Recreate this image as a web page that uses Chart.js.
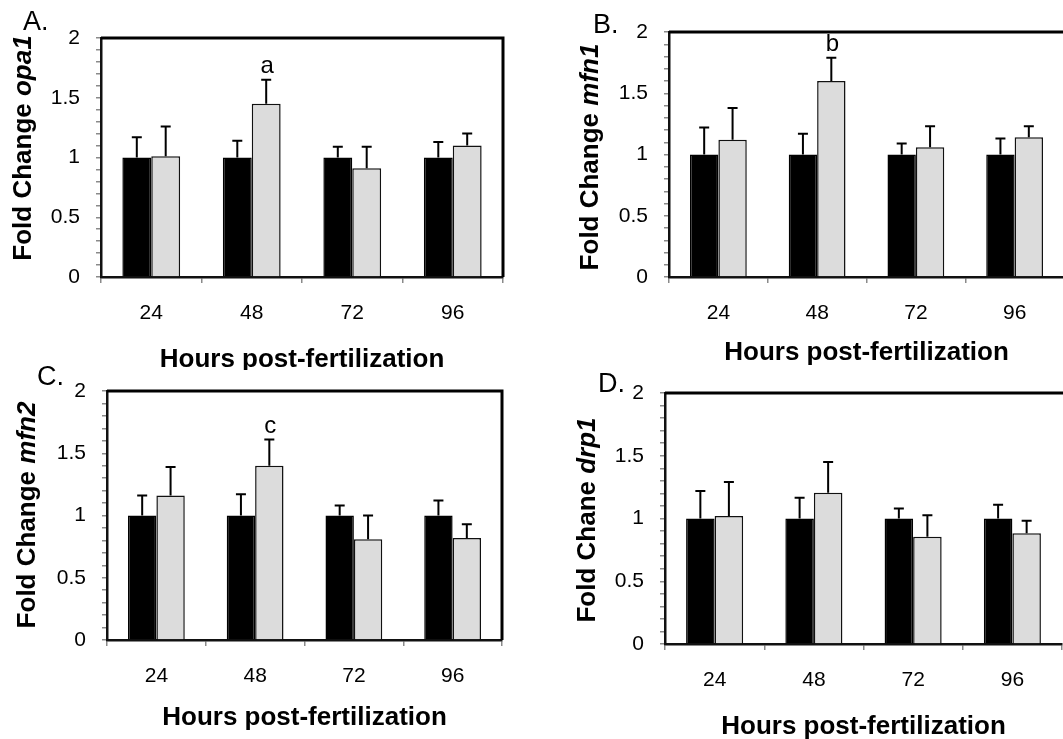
<!DOCTYPE html>
<html>
<head>
<meta charset="utf-8">
<script src="https://cdn.jsdelivr.net/npm/chart.js@4.4.1/dist/chart.umd.min.js"></script>
<style>
  body { margin: 0; width: 1063px; height: 739px; overflow: hidden; background: #fff; position: relative; }
  .panel { position: absolute; }
</style>
</head>
<body>
<div class="panel" style="left:0;top:0;width:530px;height:370px"><canvas id="chartA"></canvas></div>
<div class="panel" style="left:530px;top:0;width:550px;height:370px"><canvas id="chartB"></canvas></div>
<div class="panel" style="left:0;top:340px;width:530px;height:399px"><canvas id="chartC"></canvas></div>
<div class="panel" style="left:530px;top:340px;width:550px;height:399px"><canvas id="chartD"></canvas></div>

<script>
// ---- data ----
const hours = ['24', '48', '72', '96'];
const yLabelTicks = [0, 0.5, 1, 1.5, 2];

const opa1Ctrl = [1, 1, 1, 1];
const opa1CtrlErr = [0.17, 0.14, 0.09, 0.13];
const opa1Trt = [1.01, 1.45, 0.91, 1.10];
const opa1TrtErr = [0.25, 0.20, 0.18, 0.10];
const opa1Sig = ['', 'a', '', ''];

const mfn1Ctrl = [1, 1, 1, 1];
const mfn1CtrlErr = [0.22, 0.17, 0.09, 0.13];
const mfn1Trt = [1.12, 1.60, 1.06, 1.14];
const mfn1TrtErr = [0.26, 0.19, 0.17, 0.09];
const mfn1Sig = ['', 'b', '', ''];

const mfn2Ctrl = [1, 1, 1, 1];
const mfn2CtrlErr = [0.16, 0.17, 0.08, 0.12];
const mfn2Trt = [1.16, 1.40, 0.81, 0.82];
const mfn2TrtErr = [0.23, 0.21, 0.19, 0.11];
const mfn2Sig = ['', 'c', '', ''];

const drp1Ctrl = [1, 1, 1, 1];
const drp1CtrlErr = [0.22, 0.165, 0.08, 0.11];
const drp1Trt = [1.02, 1.205, 0.855, 0.883];
const drp1TrtErr = [0.27, 0.245, 0.17, 0.10];
const drp1Sig = ['', '', '', ''];

const FONT = '"Liberation Sans", Arial, Helvetica, sans-serif';

// error bars (upper only) + significance letters
const errorBarPlugin = {
  id: 'errorBars',
  afterDatasetsDraw(chart) {
    const ctx = chart.ctx;
    const yScale = chart.scales.y;
    ctx.save();
    ctx.strokeStyle = '#000';
    ctx.lineWidth = 2;
    chart.data.datasets.forEach((ds, di) => {
      const meta = chart.getDatasetMeta(di);
      meta.data.forEach((bar, i) => {
        const top = yScale.getPixelForValue(ds.data[i] + ds.errors[i]);
        ctx.beginPath();
        ctx.moveTo(bar.x, bar.y);
        ctx.lineTo(bar.x, top);
        ctx.moveTo(bar.x - 5, top);
        ctx.lineTo(bar.x + 5, top);
        ctx.stroke();
        if (ds.sig && ds.sig[i]) {
          ctx.fillStyle = '#000';
          ctx.font = '24px ' + FONT;
          ctx.textAlign = 'center';
          ctx.textBaseline = 'alphabetic';
          ctx.fillText(ds.sig[i], bar.x + 1, top - 7);
        }
      });
    });
    ctx.restore();
  }
};

// frame, panel letter and axis titles
const decorPlugin = {
  id: 'decor',
  afterDraw(chart, args, opts) {
    const ctx = chart.ctx;
    const a = chart.chartArea;
    ctx.save();
    ctx.strokeStyle = '#000';
    ctx.lineWidth = 3;
    ctx.beginPath();
    ctx.moveTo(a.left, a.top);
    if (opts.rightBorder) {
      ctx.lineTo(a.right + 1.5, a.top);
      ctx.moveTo(a.right, a.top);
      ctx.lineTo(a.right, a.bottom);
    } else {
      ctx.lineTo(chart.width, a.top);
    }
    ctx.stroke();

    ctx.fillStyle = '#000';
    ctx.textBaseline = 'alphabetic';
    ctx.textAlign = 'left';
    ctx.font = '27px ' + FONT;
    ctx.fillText(opts.letter, opts.letterX, opts.letterY);

    ctx.textAlign = 'center';
    ctx.textBaseline = 'middle';
    ctx.font = 'bold 26px ' + FONT;
    ctx.fillText('Hours post-fertilization', (a.left + a.right) / 2, opts.xTitleY);

    // rotated y title with italic gene name
    const plain = opts.yTitle + ' ';
    ctx.font = 'bold 26px ' + FONT;
    const w1 = ctx.measureText(plain).width;
    ctx.font = 'italic bold 26px ' + FONT;
    const w2 = ctx.measureText(opts.gene).width;
    ctx.translate(opts.yTitleX, opts.yTitleY);
    ctx.rotate(-Math.PI / 2);
    ctx.textAlign = 'left';
    ctx.font = 'bold 26px ' + FONT;
    ctx.fillText(plain, -(w1 + w2) / 2, 0);
    ctx.font = 'italic bold 26px ' + FONT;
    ctx.fillText(opts.gene, -(w1 + w2) / 2 + w1, 0);
    ctx.restore();
  }
};

function makePanel(id, ctrl, ctrlErr, trt, trtErr, sig, lay) {
  return new Chart(document.getElementById(id), {
    type: 'bar',
    data: {
      labels: hours,
      datasets: [
        { data: ctrl, errors: ctrlErr, backgroundColor: '#000', borderColor: '#000', borderWidth: 1.5,
          barPercentage: 1.0, categoryPercentage: 0.575 },
        { data: trt, errors: trtErr, sig: sig, backgroundColor: '#dcdcdc', borderColor: '#111', borderWidth: 1.5,
          barPercentage: 1.0, categoryPercentage: 0.575 }
      ]
    },
    options: {
      responsive: true,
      maintainAspectRatio: false,
      animation: false,
      events: [],
      layout: { padding: lay.pad },
      plugins: {
        legend: { display: false },
        tooltip: { enabled: false },
        decor: lay.decor
      },
      scales: {
        x: {
          grid: { offset: true, drawOnChartArea: false, drawTicks: true, tickLength: 6, color: '#8a8a8a', lineWidth: 1.5 },
          border: { display: true, color: '#111', width: 2.5 },
          ticks: { color: '#000', padding: 18, font: { family: FONT, size: 21 } },
          afterFit(scale) { scale.height = 60; }
        },
        y: {
          min: 0,
          max: 2,
          grid: { drawOnChartArea: false, drawTicks: true, tickLength: 5, color: '#8a8a8a', lineWidth: 1.5 },
          border: { display: true, color: '#111', width: 2.5 },
          ticks: {
            stepSize: 0.1,
            autoSkip: false,
            color: '#000',
            padding: 16,
            font: { family: FONT, size: 21 },
            callback(v) {
              const hit = yLabelTicks.find(t => Math.abs(t - v) < 1e-6);
              return hit === undefined ? '' : String(hit);
            }
          },
          afterFit(scale) { scale.width = 60; }
        }
      }
    },
    plugins: [errorBarPlugin, decorPlugin]
  });
}

makePanel('chartA', opa1Ctrl, opa1CtrlErr, opa1Trt, opa1TrtErr, opa1Sig, {
  pad: { left: 41, top: 38, right: 27, bottom: 33 },
  decor: { letter: 'A.', letterX: 23, letterY: 30, xTitleY: 360, yTitle: 'Fold Change', gene: 'opa1',
           yTitleX: 24, yTitleY: 148, rightBorder: true }
});
makePanel('chartB', mfn1Ctrl, mfn1CtrlErr, mfn1Trt, mfn1TrtErr, mfn1Sig, {
  pad: { left: 79, top: 32, right: 16, bottom: 33 },
  decor: { letter: 'B.', letterX: 63, letterY: 33, xTitleY: 353, yTitle: 'Fold Change', gene: 'mfn1',
           yTitleX: 61, yTitleY: 157, rightBorder: false }
});
makePanel('chartC', mfn2Ctrl, mfn2CtrlErr, mfn2Trt, mfn2TrtErr, mfn2Sig, {
  pad: { left: 47, top: 51, right: 28, bottom: 39 },
  decor: { letter: 'C.', letterX: 37, letterY: 45, xTitleY: 378, yTitle: 'Fold Change', gene: 'mfn2',
           yTitleX: 28, yTitleY: 175, rightBorder: true }
});
makePanel('chartD', drp1Ctrl, drp1CtrlErr, drp1Trt, drp1TrtErr, drp1Sig, {
  pad: { left: 75, top: 53, right: 18, bottom: 35 },
  decor: { letter: 'D.', letterX: 68, letterY: 52, xTitleY: 387, yTitle: 'Fold Chane', gene: 'drp1',
           yTitleX: 58, yTitleY: 180, rightBorder: false }
});
</script>
</body>
</html>
